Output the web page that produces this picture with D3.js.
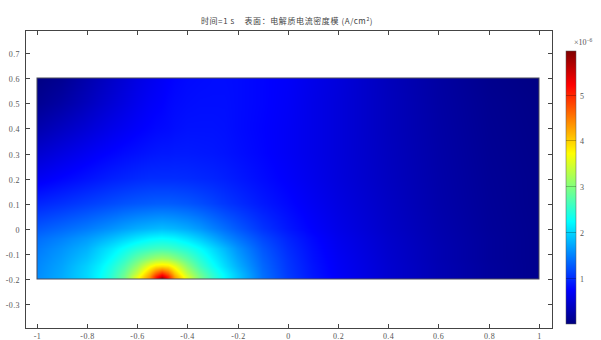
<!DOCTYPE html>
<html>
<head>
<meta charset="utf-8">
<script src="https://cdn.jsdelivr.net/npm/d3@7"></script>
<style>
html,body{margin:0;padding:0;background:#fff;}
svg{display:block;}
</style>
</head>
<body>
<svg id="chart" width="601" height="340"></svg>
<script>
// ---------- DATA (values in 1e-6 A/cm^2) ----------
const titleText = "时间=1 s    表面：电解质电流密度模 (A/cm";
const xTicks = [-1, -0.8, -0.6, -0.4, -0.2, 0, 0.2, 0.4, 0.6, 0.8, 1];
const xTickLabels = ["-1", "-0.8", "-0.6", "-0.4", "-0.2", "0", "0.2", "0.4", "0.6", "0.8", "1"];
const yTicks = [-0.3, -0.2, -0.1, 0, 0.1, 0.2, 0.3, 0.4, 0.5, 0.6, 0.7];
const yTickLabels = ["-0.3", "-0.2", "-0.1", "0", "0.1", "0.2", "0.3", "0.4", "0.5", "0.6", "0.7"];
const cbTicks = [1, 2, 3, 4, 5];
const cbTickLabels = ["1", "2", "3", "4", "5"];
const colorRange = [0, 5.95];

// sample grid
const gridX = [-1, -0.9, -0.8, -0.75, -0.7, -0.65, -0.6, -0.55, -0.525, -0.5, -0.475, -0.45, -0.4, -0.35, -0.3, -0.25, -0.2, -0.1, 0, 0.1, 0.2, 0.4, 0.6, 0.8, 1];
const gridY = [-0.2, -0.19, -0.18, -0.15, -0.12, -0.08, -0.04, 0, 0.1, 0.2, 0.3, 0.4, 0.5, 0.6];
const rowYm020 = [1.56, 1.74, 2.01, 2.22, 2.5, 2.9, 3.62, 4.4, 5.1, 5.9, 5.1, 4.35, 3.55, 2.95, 2.55, 2.22, 1.92, 1.4, 1.09, 0.87, 0.71, 0.47, 0.3, 0.17, 0.08];
const rowYm019 = [1.56, 1.74, 2.0, 2.21, 2.49, 2.88, 3.55, 4.3, 4.95, 5.4, 4.95, 4.25, 3.48, 2.92, 2.52, 2.2, 1.91, 1.4, 1.09, 0.87, 0.71, 0.47, 0.3, 0.17, 0.08];
const rowYm018 = [1.55, 1.73, 2.0, 2.2, 2.47, 2.84, 3.4, 4.15, 4.65, 5.0, 4.65, 4.08, 3.35, 2.85, 2.48, 2.17, 1.89, 1.39, 1.08, 0.86, 0.7, 0.47, 0.3, 0.17, 0.08];
const rowYm015 = [1.53, 1.7, 1.96, 2.14, 2.38, 2.68, 3.1, 3.65, 3.85, 3.9, 3.85, 3.62, 3.05, 2.62, 2.3, 2.03, 1.78, 1.35, 1.06, 0.85, 0.69, 0.47, 0.3, 0.17, 0.08];
const rowYm012 = [1.5, 1.66, 1.88, 2.05, 2.25, 2.5, 2.8, 3.05, 3.15, 3.2, 3.15, 3.03, 2.75, 2.45, 2.18, 1.94, 1.7, 1.31, 1.04, 0.83, 0.68, 0.46, 0.29, 0.16, 0.08];
const rowYm008 = [1.45, 1.6, 1.78, 1.95, 2.1, 2.28, 2.45, 2.56, 2.6, 2.62, 2.6, 2.55, 2.42, 2.24, 2.03, 1.82, 1.6, 1.25, 1.0, 0.81, 0.66, 0.45, 0.29, 0.16, 0.08];
const rowYm004 = [1.38, 1.5, 1.65, 1.75, 1.86, 1.98, 2.1, 2.2, 2.23, 2.25, 2.23, 2.2, 2.08, 1.93, 1.76, 1.58, 1.43, 1.16, 0.95, 0.78, 0.64, 0.44, 0.28, 0.16, 0.08];
const rowY000 = [1.25, 1.35, 1.46, 1.53, 1.6, 1.68, 1.75, 1.8, 1.82, 1.84, 1.82, 1.8, 1.73, 1.63, 1.5, 1.38, 1.26, 1.04, 0.87, 0.73, 0.61, 0.42, 0.27, 0.15, 0.08];
const rowY010 = [0.95, 1.02, 1.1, 1.14, 1.18, 1.22, 1.25, 1.27, 1.28, 1.28, 1.28, 1.27, 1.24, 1.19, 1.13, 1.06, 1.0, 0.88, 0.78, 0.67, 0.57, 0.4, 0.25, 0.14, 0.07];
const rowY020 = [0.67, 0.76, 0.84, 0.88, 0.92, 0.95, 0.98, 1.0, 1.0, 1.0, 1.0, 1.0, 0.99, 0.97, 0.95, 0.92, 0.88, 0.8, 0.72, 0.63, 0.54, 0.38, 0.24, 0.13, 0.07];
const rowY030 = [0.46, 0.57, 0.67, 0.72, 0.76, 0.8, 0.83, 0.86, 0.87, 0.88, 0.88, 0.89, 0.89, 0.88, 0.87, 0.85, 0.82, 0.76, 0.69, 0.61, 0.53, 0.37, 0.23, 0.12, 0.06];
const rowY040 = [0.26, 0.38, 0.5, 0.56, 0.62, 0.67, 0.72, 0.76, 0.78, 0.79, 0.8, 0.82, 0.84, 0.84, 0.84, 0.83, 0.8, 0.75, 0.69, 0.61, 0.53, 0.36, 0.22, 0.11, 0.05];
const rowY050 = [0.1, 0.21, 0.35, 0.43, 0.5, 0.57, 0.64, 0.7, 0.72, 0.74, 0.77, 0.79, 0.81, 0.82, 0.82, 0.82, 0.8, 0.76, 0.7, 0.61, 0.53, 0.36, 0.21, 0.1, 0.04];
const rowY060 = [0.02, 0.1, 0.26, 0.34, 0.42, 0.5, 0.58, 0.64, 0.67, 0.7, 0.73, 0.76, 0.79, 0.8, 0.81, 0.81, 0.8, 0.76, 0.71, 0.62, 0.54, 0.35, 0.2, 0.08, 0.02];
const gridRows = [rowYm020, rowYm019, rowYm018, rowYm015, rowYm012, rowYm008, rowYm004, rowY000, rowY010, rowY020, rowY030, rowY040, rowY050, rowY060];

// ---------- LAYOUT ----------
const svg = d3.select("#chart");
const plot = {left: 25, right: 552, top: 30, bottom: 328};
const x = d3.scaleLinear().domain([-1.0466, 1.052]).range([plot.left, plot.right]);
const y = d3.scaleLinear().domain([-0.3956, 0.7925]).range([plot.bottom, plot.top]);

// jet colormap
const jetStops = [0, 0.125, 0.375, 0.625, 0.875, 1];
const jetColors = ["#000080", "#0000ff", "#00ffff", "#ffff00", "#ff0000", "#800000"];
const jet = d3.scaleLinear().domain(jetStops).range(jetColors).interpolate(d3.interpolateRgb).clamp(true);
const norm = d3.scaleLinear().domain(colorRange).range([0, 1]).clamp(true);
const color = v => jet(norm(v));

// ---------- FIELD IMAGE ----------
const x0 = Math.round(x(gridX[0])), x1 = Math.round(x(gridX[gridX.length - 1]));
const y0 = Math.round(y(gridY[gridY.length - 1])), y1 = Math.round(y(gridY[0]));
const W = x1 - x0, H = y1 - y0;
const canvas = document.createElement("canvas");
canvas.width = W; canvas.height = H;
const ctx = canvas.getContext("2d");
const img = ctx.createImageData(W, H);
function locate(arr, v) {
  let i = d3.bisectRight(arr, v) - 1;
  i = Math.max(0, Math.min(arr.length - 2, i));
  const t = Math.max(0, Math.min(1, (v - arr[i]) / (arr[i + 1] - arr[i])));
  return [i, t];
}
for (let py = 0; py < H; py++) {
  const dy = y.invert(y0 + py + 0.5);
  const [j, ty] = locate(gridY, dy);
  for (let px = 0; px < W; px++) {
    const dx = x.invert(x0 + px + 0.5);
    const [i, tx] = locate(gridX, dx);
    const a = gridRows[j][i], b = gridRows[j][i + 1];
    const c = gridRows[j + 1][i], d = gridRows[j + 1][i + 1];
    const v = (a * (1 - tx) + b * tx) * (1 - ty) + (c * (1 - tx) + d * tx) * ty;
    const col = d3.rgb(color(v));
    const k = (py * W + px) * 4;
    img.data[k] = col.r; img.data[k + 1] = col.g; img.data[k + 2] = col.b; img.data[k + 3] = 255;
  }
}
ctx.putImageData(img, 0, 0);
svg.append("image")
  .attr("x", x0).attr("y", y0).attr("width", W).attr("height", H)
  .attr("preserveAspectRatio", "none")
  .attr("href", canvas.toDataURL());
svg.append("rect")
  .attr("x", x0).attr("y", y0).attr("width", W).attr("height", H)
  .attr("fill", "none").attr("stroke", "#4a4a5a").attr("stroke-width", 1);

// ---------- AXES ----------
const axisColor = "#444";
const tickFont = "'Liberation Serif', 'DejaVu Serif', serif";
svg.append("rect")
  .attr("x", plot.left + 0.5).attr("y", plot.top + 0.5)
  .attr("width", plot.right - plot.left).attr("height", plot.bottom - plot.top)
  .attr("fill", "none").attr("stroke", axisColor).attr("stroke-width", 1);

const tickLen = 4;
const gx = svg.append("g");
xTicks.forEach((t, i) => {
  const px = Math.round(x(t)) + 0.5;
  gx.append("line").attr("x1", px).attr("x2", px).attr("y1", plot.bottom).attr("y2", plot.bottom - tickLen).attr("stroke", axisColor);
  gx.append("line").attr("x1", px).attr("x2", px).attr("y1", plot.top + 1).attr("y2", plot.top + 1 + tickLen).attr("stroke", axisColor);
  gx.append("text").attr("x", px).attr("y", plot.bottom + 11)
    .attr("text-anchor", "middle").attr("font-family", tickFont).attr("font-size", 8)
    .attr("letter-spacing", 0.4).attr("fill", "#555").text(xTickLabels[i]);
});
const gy = svg.append("g");
yTicks.forEach((t, i) => {
  const py = Math.round(y(t)) + 0.5;
  gy.append("line").attr("x1", plot.left + 1).attr("x2", plot.left + 1 + tickLen).attr("y1", py).attr("y2", py).attr("stroke", axisColor);
  gy.append("line").attr("x1", plot.right).attr("x2", plot.right - tickLen).attr("y1", py).attr("y2", py).attr("stroke", axisColor);
  gy.append("text").attr("x", plot.left - 5).attr("y", py + 3)
    .attr("text-anchor", "end").attr("font-family", tickFont).attr("font-size", 8)
    .attr("letter-spacing", 0.4).attr("fill", "#555").text(yTickLabels[i]);
});

// ---------- TITLE ----------
const title = svg.append("text").attr("x", 287).attr("y", 24)
  .attr("text-anchor", "middle").attr("font-family", "'Noto Sans CJK SC', sans-serif")
  .attr("font-size", 8).attr("letter-spacing", 0.6).attr("fill", "#444")
  .style("white-space", "pre");
title.append("tspan").text(titleText);
title.append("tspan").attr("dy", -3).attr("font-size", 5).text("2");
title.append("tspan").attr("dy", 3).text(")");

// ---------- COLORBAR ----------
const cb = {x: 566, w: 10, top: 51, bottom: 324};
const cy = d3.scaleLinear().domain(colorRange).range([cb.bottom, cb.top]);
const defs = svg.append("defs");
const grad = defs.append("linearGradient").attr("id", "cbgrad")
  .attr("x1", 0).attr("y1", 1).attr("x2", 0).attr("y2", 0);
d3.range(0, 1.0001, 0.025).forEach(f => {
  grad.append("stop").attr("offset", f).attr("stop-color", jet(f));
});
svg.append("rect").attr("x", cb.x).attr("y", cb.top).attr("width", cb.w).attr("height", cb.bottom - cb.top)
  .attr("fill", "url(#cbgrad)").attr("stroke", "#555").attr("stroke-width", 0.5);
cbTicks.forEach((t, i) => {
  const py = Math.round(cy(t)) + 0.5;
  svg.append("line").attr("x1", cb.x).attr("x2", cb.x + cb.w).attr("y1", py).attr("y2", py)
    .attr("stroke", "#000").attr("stroke-opacity", 0.35).attr("stroke-width", 0.7);
  svg.append("text").attr("x", cb.x + cb.w + 4).attr("y", py + 3)
    .attr("font-family", tickFont).attr("font-size", 8).attr("fill", "#555").text(cbTickLabels[i]);
});
const mult = svg.append("text").attr("x", 574).attr("y", 45)
  .attr("font-family", tickFont).attr("font-size", 8).attr("fill", "#555");
mult.append("tspan").text("×10");
mult.append("tspan").attr("dy", -3).attr("font-size", 5.5).text("−6");
</script>
</body>
</html>
